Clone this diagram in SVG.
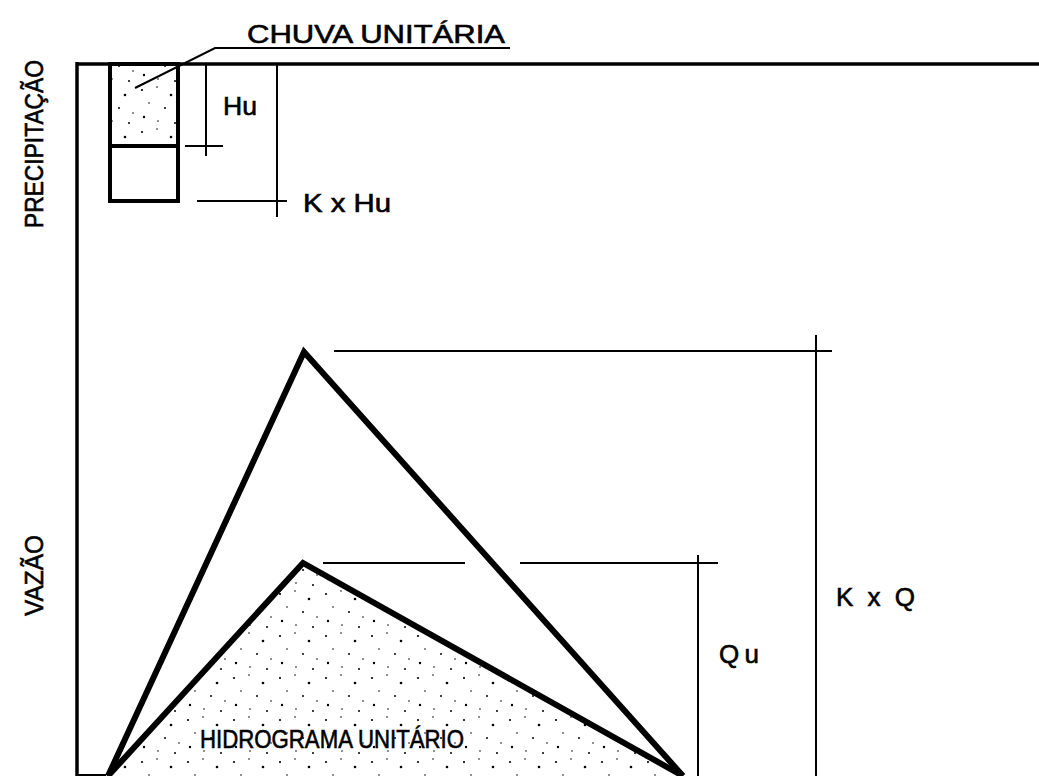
<svg xmlns="http://www.w3.org/2000/svg" width="1039" height="776" viewBox="0 0 1039 776">
<style>
.thin{stroke:#000;stroke-width:2;fill:none;stroke-linecap:butt}
.axis{stroke:#000;stroke-width:3.5;fill:none}
.tri{stroke:#000;stroke-width:6;stroke-linejoin:miter;fill:none}
.box{stroke:#000;stroke-width:4;fill:none}
.lbl{font-family:"Liberation Sans",Arial,sans-serif;font-size:26px;fill:#000;stroke:#000;stroke-width:0.6}
</style>
<defs>
<pattern id="stip" width="46" height="42" patternUnits="userSpaceOnUse">
<circle cx="4" cy="6" r="1.1" fill="#000"/>
<circle cx="19" cy="3" r="0.8" fill="#000"/>
<circle cx="33" cy="11" r="1.3" fill="#000"/>
<circle cx="11" cy="19" r="0.8" fill="#000"/>
<circle cx="27" cy="24" r="1" fill="#000"/>
<circle cx="41" cy="29" r="0.8" fill="#000"/>
<circle cx="6" cy="33" r="1.2" fill="#000"/>
<circle cx="20" cy="37" r="0.8" fill="#000"/>
<circle cx="37" cy="39" r="1" fill="#000"/>
</pattern>
</defs>
<rect width="1039" height="776" fill="#fff"/>
<g id="axes">
<line class="axis" x1="77" y1="64" x2="1039" y2="64"/>
<line class="axis" x1="77" y1="62" x2="77" y2="776"/>
<line class="thin" x1="77" y1="775" x2="106" y2="775"/>
</g>
<g id="chuva">
<rect x="110" y="64" width="68" height="82" fill="url(#stip)"/>
<rect class="box" x="110" y="64" width="68" height="137"/>
<line class="box" x1="110" y1="146" x2="178" y2="146"/>
</g>
<g id="hidrograma-kq">
<polyline class="tri" points="108,776 304,352 683,776"/>
</g>
<g id="hidrograma-unitario">
<polygon points="108,776 303,563 683,776" fill="url(#stip)"/>
<polyline class="tri" points="108,776 303,563 683,776"/>
</g>
<g id="connectors">
<polyline class="thin" points="510,48 215,48 135,88"/>
<line class="thin" x1="206" y1="64" x2="206" y2="156"/>
<line class="thin" x1="185" y1="146" x2="223" y2="146"/>
<line class="thin" x1="277" y1="64" x2="277" y2="217"/>
<line class="thin" x1="197" y1="201" x2="287" y2="201"/>
<line class="thin" x1="334" y1="351" x2="832" y2="351"/>
<line class="thin" x1="816" y1="335" x2="816" y2="776"/>
<line class="thin" x1="323" y1="563" x2="465" y2="563"/>
<line class="thin" x1="520" y1="563" x2="718" y2="563"/>
<line class="thin" x1="698" y1="555" x2="698" y2="776"/>
</g>
<g id="labels">
<text class="lbl" x="247" y="43" textLength="258" lengthAdjust="spacingAndGlyphs">CHUVA  UNITÁRIA</text>
<text class="lbl" x="223" y="115" textLength="34" lengthAdjust="spacingAndGlyphs">Hu</text>
<text class="lbl" x="303" y="212" textLength="88" lengthAdjust="spacingAndGlyphs">K x Hu</text>
<text class="lbl" x="836" y="606" textLength="79" lengthAdjust="spacing">K x Q</text>
<text class="lbl" x="719" y="663" textLength="40" lengthAdjust="spacing">Qu</text>
<text class="lbl" x="200" y="748" textLength="264" lengthAdjust="spacingAndGlyphs">HIDROGRAMA  UNITÁRIO</text>
<text class="lbl" transform="translate(43,228) rotate(-90)" textLength="168" lengthAdjust="spacingAndGlyphs">PRECIPITAÇÃO</text>
<text class="lbl" transform="translate(43,616) rotate(-90)" textLength="81" lengthAdjust="spacingAndGlyphs">VAZÃO</text>
</g>
</svg>
